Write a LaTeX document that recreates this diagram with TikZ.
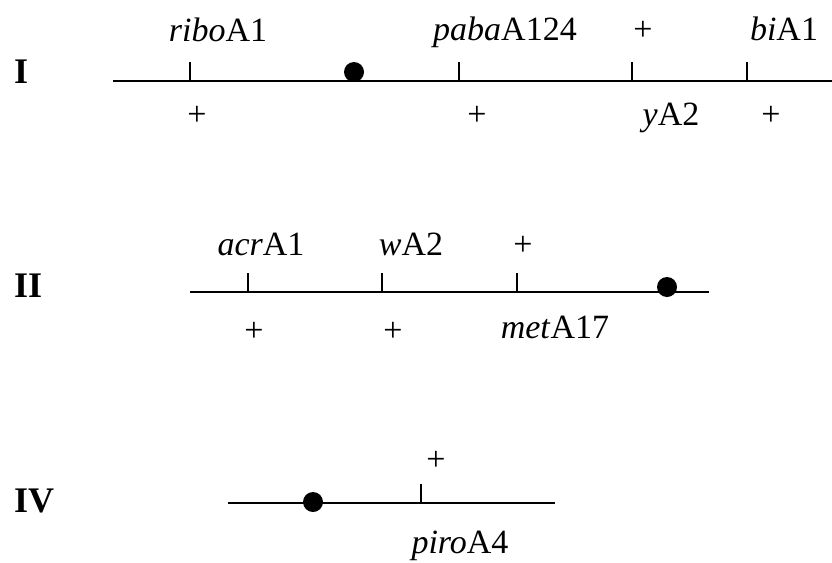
\documentclass[tikz,border=0pt]{standalone}
\usepackage{fontspec}
\setmainfont{Liberation Serif}
\usetikzlibrary{positioning}
\tikzset{
  chrom/.style={line width=1.8pt, line cap=butt},
  tickmark/.style={line width=2.5pt},
  cen/.style={circle, fill=black, inner sep=0pt, minimum size=20pt},
  gene/.style={inner sep=0pt, anchor=base, font=\fontsize{34}{40}\selectfont},
  grp/.style={inner sep=0pt, anchor=base west, font=\fontsize{36}{40}\selectfont\bfseries},
}
\begin{document}
\begin{tikzpicture}[x=1pt, y=-1pt]
  \useasboundingbox (0,0) rectangle (832,562);
  % linkage group I
  \node[grp] (nI) at (14,83) {I};
  \coordinate (aI) at (113,81);
  \coordinate (bI) at (832,81);
  \draw[chrom] (aI) -- (bI);
  \foreach \x/\n in {190/1, 459/2, 632/3, 747/4} {
    \coordinate (tI\n) at (\x,81);
    \draw[tickmark] (tI\n) -- ++(0,-19);
  }
  \node[cen] (cI) at (354,72) {};
  \node[gene] (ribo) at (218,41) {\textit{ribo}A1};
  \node[gene] (paba) at (505,40) {\textit{paba}A124};
  \node[gene] (pyA) at (643,40) {+};
  \node[gene] (bi) at (784,40) {\textit{bi}A1};
  \node[gene] (pribo) at (197,125) {+};
  \node[gene] (ppaba) at (477,125) {+};
  \node[gene] (yA) at (671,125) {\textit{y}A2};
  \node[gene] (pbi) at (771,125) {+};
  % linkage group II
  \node[grp] (nII) at (14,297) {II};
  \coordinate (aII) at (190,292);
  \coordinate (bII) at (709,292);
  \draw[chrom] (aII) -- (bII);
  \foreach \x/\n in {248/1, 382/2, 517/3} {
    \coordinate (tII\n) at (\x,292);
    \draw[tickmark] (tII\n) -- ++(0,-19);
  }
  \node[cen] (cII) at (667,287) {};
  \node[gene] (acr) at (261,255) {\textit{acr}A1};
  \node[gene] (wA) at (411,255) {\textit{w}A2};
  \node[gene] (pmet) at (523,255) {+};
  \node[gene] (pacr) at (254,341) {+};
  \node[gene] (pw) at (393,341) {+};
  \node[gene] (met) at (555,338) {\textit{met}A17};
  % linkage group IV
  \node[grp] (nIV) at (14,512) {IV};
  \coordinate (aIV) at (228,503);
  \coordinate (bIV) at (555,503);
  \draw[chrom] (aIV) -- (bIV);
  \coordinate (tIV1) at (421,503);
  \draw[tickmark] (tIV1) -- ++(0,-19);
  \node[cen] (cIV) at (313,502) {};
  \node[gene] (ppiro) at (436,470) {+};
  \node[gene] (piro) at (460,553) {\textit{piro}A4};
\end{tikzpicture}
\end{document}
